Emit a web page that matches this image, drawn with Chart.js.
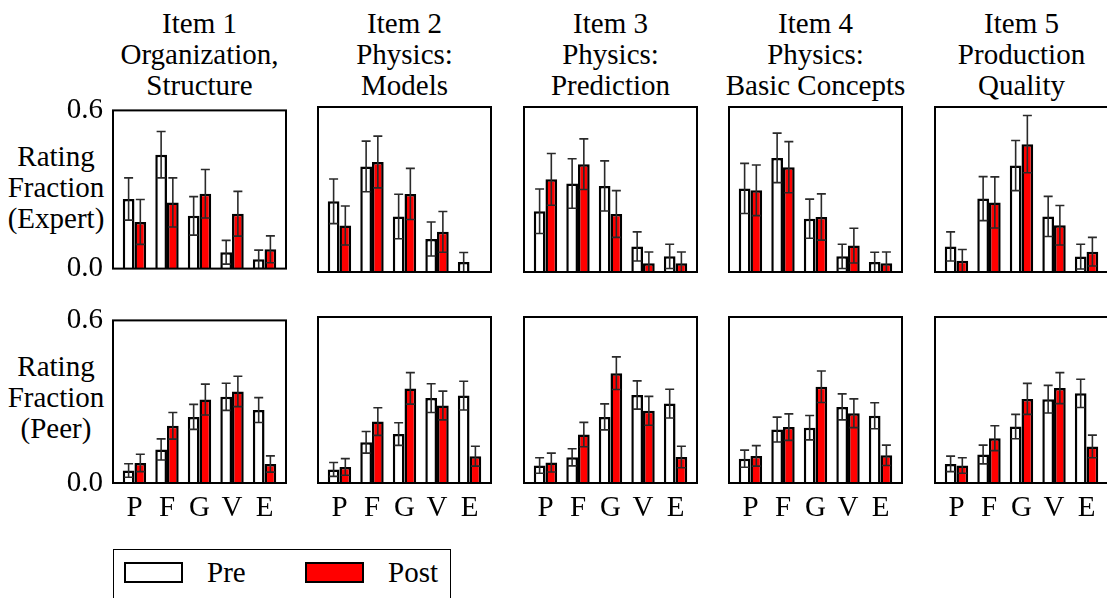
<!DOCTYPE html>
<html>
<head>
<meta charset="utf-8">
<script src="https://cdn.jsdelivr.net/npm/chart.js@4.4.0/dist/chart.umd.min.js"></script>
<style>
  body { margin: 0; background: #fff; width: 1107px; height: 598px; overflow: hidden; position: relative;
         font-family: 'Liberation Serif', 'Times New Roman', serif; color: #000; }
  canvas { position: absolute; }
  .title { position: absolute; width: 260px; text-align: center; font-size: 29px; line-height: 31px; white-space: nowrap; }
  .ylab { position: absolute; left: 0; width: 112px; text-align: center; font-size: 29px; line-height: 31px; }
  .legend { position: absolute; left: 113px; top: 549px; width: 336px; height: 60px; border: 1.5px solid #000; }
  .swatch { position: absolute; top: 12px; width: 55px; height: 17px; border: 2px solid #000; }
  .ltext { position: absolute; top: 7px; font-size: 29px; line-height: 31px; }
</style>
</head>
<body>
<div class="ylab" style="top:141px">Rating<br>Fraction<br>(Expert)</div>
<div class="ylab" style="top:351px">Rating<br>Fraction<br>(Peer)</div>
<div class="legend">
  <div class="swatch" style="left:10px;background:#fff"></div>
  <div class="ltext" style="left:93px">Pre</div>
  <div class="swatch" style="left:191px;background:#ff0000"></div>
  <div class="ltext" style="left:274px">Post</div>
</div>
<script>
// categorias y titulos
const categories = ['P', 'F', 'G', 'V', 'E'];
const itemTitles = [
    ['Item 1', 'Organization,', 'Structure'],
    ['Item 2', 'Physics:', 'Models'],
    ['Item 3', 'Physics:', 'Prediction'],
    ['Item 4', 'Physics:', 'Basic Concepts'],
    ['Item 5', 'Production', 'Quality']
];
const yTicks = [0.0, 0.6];

// valores (una fila por item, columnas P F G V E)
const expertPre = [
    [0.264, 0.432, 0.200, 0.062, 0.035],
    [0.257, 0.384, 0.202, 0.120, 0.036],
    [0.221, 0.322, 0.313, 0.093, 0.057],
    [0.304, 0.415, 0.194, 0.057, 0.036],
    [0.093, 0.267, 0.387, 0.202, 0.056]
];
const expertPreErr = [
    [0.080, 0.088, 0.073, 0.045, 0.035],
    [0.081, 0.092, 0.081, 0.062, 0.035],
    [0.081, 0.090, 0.091, 0.053, 0.044],
    [0.091, 0.090, 0.071, 0.044, 0.036],
    [0.053, 0.080, 0.091, 0.073, 0.045]
];
const expertPost = [
    [0.177, 0.251, 0.284, 0.208, 0.073],
    [0.169, 0.400, 0.284, 0.146, 0.000],
    [0.337, 0.392, 0.211, 0.032, 0.032],
    [0.297, 0.381, 0.200, 0.096, 0.032],
    [0.041, 0.253, 0.465, 0.170, 0.074]
];
const expertPostErr = [
    [0.085, 0.093, 0.092, 0.085, 0.051],
    [0.071, 0.094, 0.093, 0.074, 0.000],
    [0.094, 0.092, 0.085, 0.041, 0.041],
    [0.092, 0.093, 0.084, 0.063, 0.041],
    [0.041, 0.093, 0.104, 0.072, 0.052]
];
const peerPre = [
    [0.046, 0.124, 0.244, 0.318, 0.269],
    [0.049, 0.147, 0.177, 0.307, 0.316],
    [0.063, 0.093, 0.239, 0.318, 0.287],
    [0.088, 0.193, 0.200, 0.275, 0.243],
    [0.069, 0.103, 0.204, 0.303, 0.324]
];
const peerPreErr = [
    [0.025, 0.039, 0.046, 0.050, 0.046],
    [0.025, 0.039, 0.041, 0.052, 0.052],
    [0.028, 0.031, 0.047, 0.051, 0.052],
    [0.031, 0.045, 0.044, 0.047, 0.047],
    [0.028, 0.034, 0.044, 0.050, 0.051]
];
const peerPost = [
    [0.074, 0.211, 0.308, 0.338, 0.070],
    [0.058, 0.222, 0.342, 0.280, 0.097],
    [0.074, 0.175, 0.397, 0.261, 0.094],
    [0.098, 0.202, 0.348, 0.252, 0.100],
    [0.063, 0.162, 0.304, 0.343, 0.132]
];
const peerPostErr = [
    [0.032, 0.049, 0.057, 0.056, 0.030],
    [0.030, 0.050, 0.057, 0.052, 0.036],
    [0.034, 0.044, 0.059, 0.052, 0.039],
    [0.037, 0.048, 0.057, 0.052, 0.037],
    [0.028, 0.045, 0.056, 0.056, 0.041]
];

// posiciones de los paneles
const colLeft = [113, 318, 524, 729, 935];
const plotW = 173;
const rows = [
    { top: 107, h: 165, pre: expertPre, preErr: expertPreErr, post: expertPost, postErr: expertPostErr },
    { top: 317, h: 166, pre: peerPre, preErr: peerPreErr, post: peerPost, postErr: peerPostErr }
];
const serif = 'Liberation Serif';

// barras de error simetricas con tope arriba y abajo
const errorBars = {
    id: 'errorBars',
    afterDatasetsDraw(chart) {
        const ctx = chart.ctx, y = chart.scales.y, area = chart.chartArea;
        ctx.save();
        ctx.beginPath();
        ctx.rect(area.left, area.top, area.width, area.height);
        ctx.clip();
        ctx.strokeStyle = '#2a2a2a';
        ctx.lineWidth = 1.6;
        chart.data.datasets.forEach((ds, d) => {
            chart.getDatasetMeta(d).data.forEach((bar, i) => {
                const v = ds.data[i].y, e = ds.errors[i];
                if (!e) return;
                const top = y.getPixelForValue(v + e);
                const bot = y.getPixelForValue(Math.max(v - e, 0));
                const c = 4.5;
                ctx.beginPath();
                ctx.moveTo(bar.x, top); ctx.lineTo(bar.x, bot);
                ctx.moveTo(bar.x - c, top); ctx.lineTo(bar.x + c, top);
                ctx.moveTo(bar.x - c, bot); ctx.lineTo(bar.x + c, bot);
                ctx.stroke();
            });
        });
        ctx.restore();
    }
};

// marco negro alrededor del area
const frame = {
    id: 'frame',
    afterDraw(chart) {
        const a = chart.chartArea, ctx = chart.ctx;
        ctx.save();
        ctx.strokeStyle = '#000';
        ctx.lineWidth = 2;
        ctx.strokeRect(a.left, a.top, a.right - a.left, a.bottom - a.top);
        ctx.restore();
    }
};

function makePanel(r, c) {
    const row = rows[r];
    const first = c === 0;
    const bottomRow = r === 1;
    const padL = first ? 0 : 4, padR = 4, padT = 24;
    const padB = bottomRow ? 0 : 24;
    const xH = bottomRow ? 44 : 0;
    const left = first ? 0 : colLeft[c] - padL;
    const width = (first ? colLeft[0] : padL) + plotW + padR;
    const top = row.top - padT;
    const height = padT + row.h + padB + xH;

    const canvas = document.createElement('canvas');
    canvas.width = width; canvas.height = height;
    canvas.style.left = left + 'px'; canvas.style.top = top + 'px';
    canvas.style.width = width + 'px'; canvas.style.height = height + 'px';
    document.body.appendChild(canvas);

    new Chart(canvas, {
        type: 'bar',
        data: {
            datasets: [
                {
                    label: 'Pre',
                    data: row.pre[c].map((v, i) => ({ x: i, y: v })),
                    errors: row.preErr[c],
                    backgroundColor: '#ffffff',
                    borderColor: '#000000',
                    borderWidth: 2.5
                },
                {
                    label: 'Post',
                    data: row.post[c].map((v, i) => ({ x: i, y: v })),
                    errors: row.postErr[c],
                    backgroundColor: '#ff0000',
                    borderColor: '#000000',
                    borderWidth: 2.5
                }
            ]
        },
        options: {
            responsive: false,
            animation: false,
            events: [],
            categoryPercentage: 0.72,
            barPercentage: 1.0,
            layout: { padding: { left: padL, right: padR, top: padT, bottom: padB } },
            plugins: { legend: { display: false }, tooltip: { enabled: false } },
            scales: {
                x: {
                    type: 'linear',
                    min: -0.66,
                    max: 4.66,
                    offset: false,
                    display: bottomRow,
                    afterBuildTicks: s => { s.ticks = categories.map((_, i) => ({ value: i })); },
                    afterFit: s => { if (bottomRow) s.height = xH; },
                    grid: { display: false, drawTicks: false, offset: false },
                    border: { display: false },
                    ticks: {
                        padding: 8,
                        maxRotation: 0,
                        autoSkip: false,
                        color: '#000',
                        font: { family: serif, size: 29 },
                        callback: v => categories[v]
                    }
                },
                y: {
                    min: 0,
                    max: 0.6,
                    display: first,
                    afterBuildTicks: s => { s.ticks = yTicks.map(v => ({ value: v })); },
                    afterFit: s => { s.width = first ? colLeft[0] : 0; },
                    grid: { display: false, drawTicks: false },
                    border: { display: false },
                    ticks: {
                        padding: 10,
                        color: '#000',
                        font: { family: serif, size: 29 },
                        callback: v => v.toFixed(1)
                    }
                }
            }
        },
        plugins: [errorBars, frame]
    });
}

// titulos de columna
itemTitles.forEach((t, c) => {
    const d = document.createElement('div');
    d.className = 'title';
    d.style.left = (colLeft[c] + plotW / 2 - 130) + 'px';
    d.style.top = '8px';
    d.innerHTML = t.join('<br>');
    document.body.appendChild(d);
});

for (let r = 0; r < 2; r++) {
    for (let c = 0; c < 5; c++) makePanel(r, c);
}
</script>
</body>
</html>
